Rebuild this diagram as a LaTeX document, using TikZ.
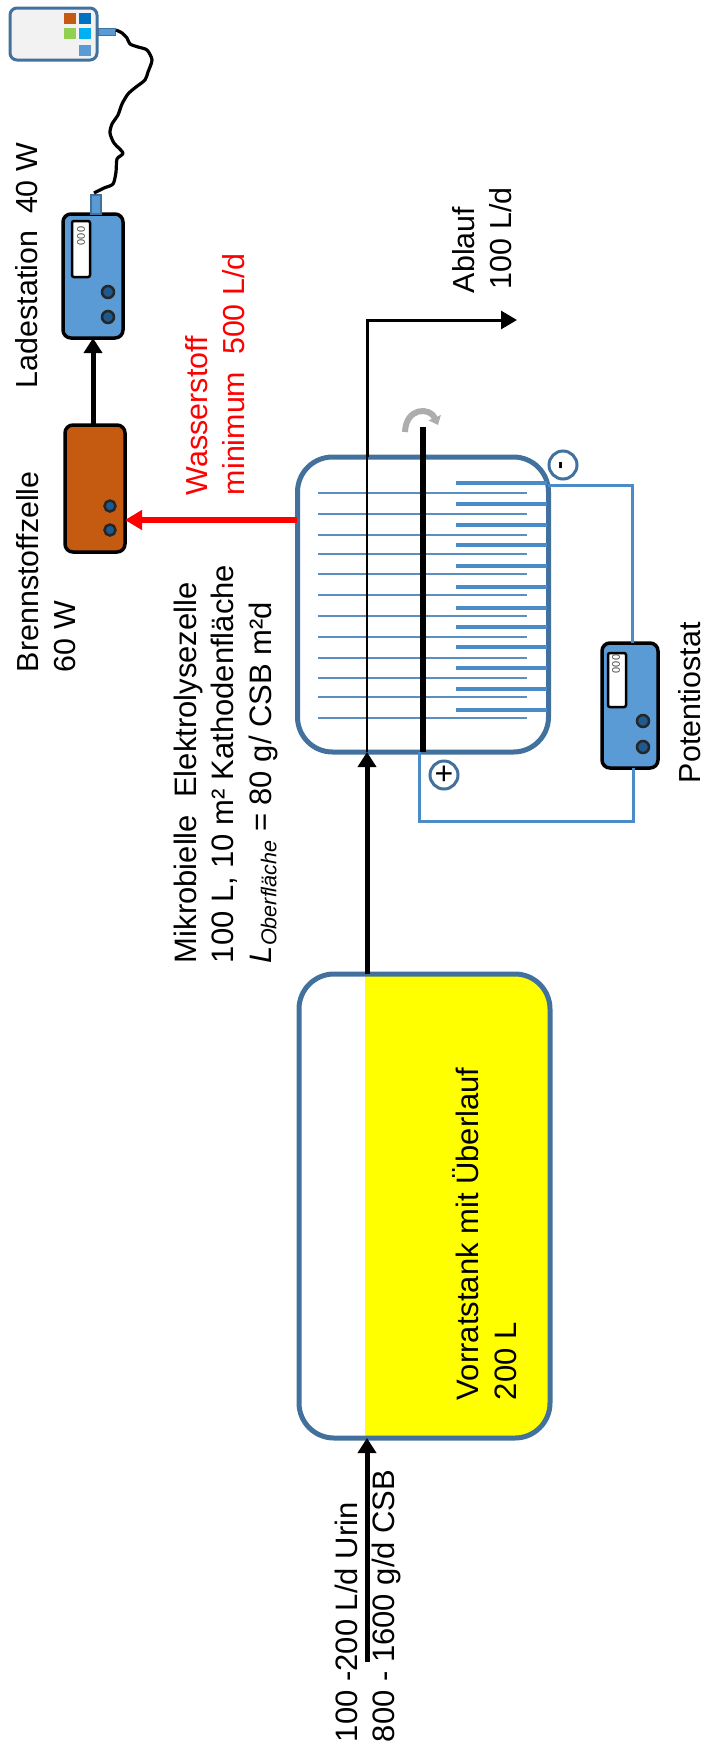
\documentclass[tikz,border=0pt]{standalone}
\usepackage{fontspec}
\setmainfont{Liberation Sans}
\usetikzlibrary{arrows.meta}
\definecolor{tankblue}{HTML}{41719C}
\definecolor{devblue}{HTML}{5B9BD5}
\definecolor{elecA}{HTML}{5A8FC0}
\definecolor{wireblue}{HTML}{4A8BC8}
\definecolor{brown1}{HTML}{C55A11}
\definecolor{knobblue}{HTML}{1F5A8F}
\definecolor{sqblue}{HTML}{0070C0}
\definecolor{sqgreen}{HTML}{92D050}
\definecolor{sqcyan}{HTML}{00B0F0}
\definecolor{tankyellow}{RGB}{255,255,0}
\definecolor{hred}{RGB}{255,0,0}
\tikzset{
  x=1pt,y=-1pt,
  every node/.style={inner sep=0pt,outer sep=0pt},
  lbl/.style={rotate=90,anchor=north west,align=left,font=\fontsize{30.4}{37.5}\selectfont},
  lblwide/.style={lbl,font=\fontsize{31}{37.5}\selectfont},
  vessel/.style={draw=tankblue,line width=5pt,rounded corners=35pt},
  device/.style={draw=black,line width=3.5pt,rounded corners=8pt},
  dispbox/.style={draw=black,line width=2.5pt,fill=white,rounded corners=2pt},
  dispnum/.style={rotate=90,font=\fontsize{11}{11}\selectfont,text=black!70},
  knob/.style={circle,draw=black!85,line width=2.5pt,fill=knobblue,minimum size=11pt},
  plug/.style={draw=tankblue,line width=1.5pt,fill=devblue},
  pol/.style={circle,draw=tankblue,line width=3pt,fill=white,minimum size=28pt},
  flow/.style={draw=black,line width=5pt,-{Triangle[width=18pt,length=15pt]}},
  thinflow/.style={draw=black,line width=3pt,-{Triangle[width=18pt,length=16pt]}},
  h2flow/.style={draw=hred,line width=5.5pt,-{Triangle[width=19pt,length=17pt]}},
  wire/.style={draw=wireblue,line width=3pt},
  anodeline/.style={draw=elecA,line width=2pt},
  cathline/.style={draw=wireblue,line width=3.2pt},
  square/.style={minimum size=11.5pt}
}
\begin{document}
\begin{tikzpicture}
\useasboundingbox (0,0) rectangle (705,1756);
% storage tank
\fill[tankyellow] (365,974) [rounded corners=35pt] -- (550,974) -- (550,1438) [sharp corners] -- (365,1438) -- cycle;
\node[vessel,minimum width=251pt,minimum height=464pt] (tank) at (424.5,1206) {};
% MEC
\node[vessel,fill=white,minimum width=251pt,minimum height=295pt] (mec) at (423,604.5) {};
\foreach \yy in {493,514,535,554,574,595,616,637,658,678,697,718}
  \draw[anodeline] (318,\yy) -- (527,\yy);
\foreach \yy in {483,504,525,545,566,587,608,627,647,668,689,710}
  \draw[cathline] (456,\yy) -- (547,\yy);
% coordinates for the flows
\coordinate (feed) at (367,1662);
\coordinate (outcorner) at (367,320);
\coordinate (outend) at (517,320);
\coordinate (shafttop) at (423,427);
\coordinate (h2) at (297,520);
\coordinate (wm) at (548,485);
\coordinate (wmc) at (632,485);
\coordinate (wpa) at (419,821);
\coordinate (wpb) at (633,821);
% devices
\node[device,fill=brown1,minimum width=60pt,minimum height=127pt] (brenn) at (95,488.5) {};
\node[knob] (bk1) at (110,506) {};
\node[knob] (bk2) at (110,530) {};
\node[device,fill=devblue,minimum width=60pt,minimum height=124pt] (lade) at (93,276) {};
\node[dispbox,minimum width=18pt,minimum height=56pt] (ld) at (81,249) {};
\node[dispnum] (ldn) at (81,236) {000};
\node[knob,minimum size=12pt] (lk1) at (108,292) {};
\node[knob,minimum size=12pt] (lk2) at (108,317) {};
\node[device,fill=devblue,minimum width=56pt,minimum height=125pt] (poti) at (630,705.5) {};
\node[dispbox,minimum width=18pt,minimum height=54pt] (pd) at (617,680) {};
\node[dispnum] (pdn) at (616,664) {000};
\node[knob,minimum size=12pt] (pk1) at (643,721) {};
\node[knob,minimum size=12pt] (pk2) at (643,747) {};
% phone
\node[draw=tankblue,line width=3pt,fill=black!5,rounded corners=7pt,minimum width=87pt,minimum height=52pt] (phone) at (53.5,34) {};
\node[square,fill=brown1] (s1) at (70,18.5) {};
\node[square,fill=sqblue] (s2) at (85,18.5) {};
\node[square,fill=sqgreen] (s3) at (70,33.5) {};
\node[square,fill=sqcyan] (s4) at (85,33.5) {};
\node[square,fill=devblue] (s5) at (85,50.5) {};
\node[plug,minimum width=17pt,minimum height=7pt] (pplug) at (107,32) {};
\node[plug,minimum width=10pt,minimum height=19pt] (lplug) at (96,204.5) {};
% cable
\draw[black,line width=3.2pt,line join=round] plot[smooth,tension=0.45] coordinates {(116,30) (122,33) (127,38) (130,44) (138,47) (147,50) (152,60) (148,72) (145,80) (136,87) (128,94) (122,104) (118,115) (112,124) (110,133) (114,143) (123,153) (117,159) (116,172) (113,184) (104,188) (94,193)};
% flows
\draw[flow] (feed) -- (feed |- tank.south);
\draw[flow] (feed |- tank.north) -- (feed |- mec.south);
\draw[black,line width=1.6pt] (feed |- mec.south) -- (feed |- mec.north);
\draw[thinflow] (outcorner |- mec.north) -- (outcorner) -- (outend);
\draw[h2flow] (h2) -- (h2 -| brenn.east);
\draw[flow] (brenn.north -| lade.south) -- (lade.south);
% stirrer
\draw[black!32,line width=6pt,-{Triangle[width=13pt,length=8pt]}] (405,432) .. controls (406,407) and (430,407) .. (438,425);
\draw[black,line width=5.5pt] (shafttop |- mec.south) -- (shafttop);
% wires
\draw[wire] (wm) -- (wmc) -- (wmc |- poti.north);
\draw[wire] (wpb |- poti.south) -- (wpb) -- (wpa) -- (wpa |- mec.south);
\node[pol,font=\fontsize{32}{32}\selectfont] (plus) at (444,775) {+};
\node[pol,font=\fontsize{24}{24}\bfseries\selectfont] (minus) at (563,465) {\rotatebox{90}{-}};
% labels
\node[lbl] (t1) at (15,388) {Ladestation~~40 W};
\node[lbl] (t2) at (16,672) {Brennstoffzelle\\60 W};
\node[lbl,text=hred] (t3) at (185,495) {Wasserstoff\\minimum~~500 L/d};
\node[lblwide] (t4) at (174,963) {Mikrobielle~~Elektrolysezelle\\100 L, 10 m²~Kathodenfläche\\{\itshape L}\raisebox{-5pt}{\fontsize{21.5}{22}\itshape Oberfläche} = 80 g/ CSB m²d};
\node[lbl] (t5) at (452,293) {Ablauf\\\hspace{4pt}100 L/d};
\node[lbl] (t6) at (678,783) {Potentiostat};
\node[lblwide] (t7) at (453,1400) {Vorratstank mit Überlauf\\200 L};
\node[lblwide] (t8) at (335,1742) {100 -200 L/d Urin\\800 - 1600 g/d CSB};
\end{tikzpicture}
\end{document}
